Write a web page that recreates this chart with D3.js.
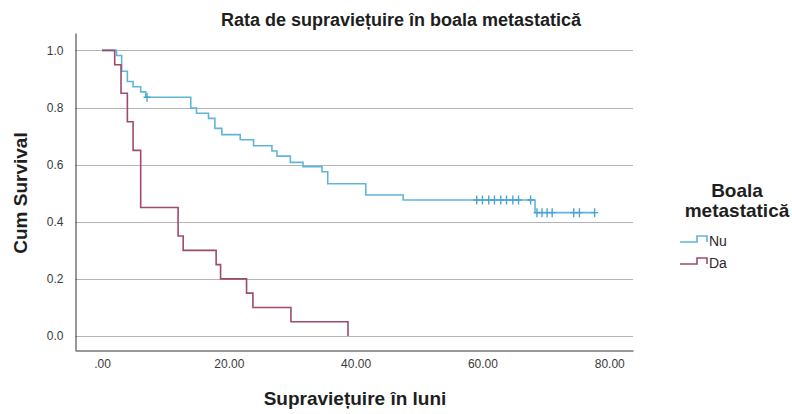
<!DOCTYPE html>
<html>
<head>
<meta charset="utf-8">
<script src="https://cdn.jsdelivr.net/npm/d3@7/dist/d3.min.js"></script>
<style>
  html, body { margin: 0; padding: 0; background: #fff; }
  svg { display: block; font-family: "Liberation Sans", Arial, sans-serif; }
</style>
</head>
<body>
<svg id="chart" width="792" height="414"></svg>
<script>
// Kaplan–Meier steps: time (months) and cumulative survival after each event
const groups = ["Nu", "Da"];
const groupColors = ["#62b5da", "#9e4a6e"];

const nuTime = [0, 2.3, 3.1, 4, 4.9, 6.1, 6.9, 14, 14.9, 16.8, 17.8, 18.9, 21.8, 23.9, 26.8, 27.6, 29.7, 31.7, 34.7, 35.6, 41.6, 47.5, 68.3];
const nuSurv = [1, 0.982, 0.927, 0.891, 0.873, 0.855, 0.836, 0.798, 0.780, 0.762, 0.727, 0.705, 0.687, 0.666, 0.648, 0.630, 0.608, 0.593, 0.575, 0.533, 0.494, 0.476, 0.432];
const nuCensored = [7.1, 59.1, 60.0, 61.0, 61.9, 62.9, 63.8, 64.8, 65.7, 67.6, 68.6, 69.4, 70.2, 71.0, 74.4, 75.3, 77.7];
const nuEnd = 77.7;

const daTime = [0, 2, 3, 4, 4.9, 6.1, 12, 12.8, 18, 18.7, 22.8, 23.8, 29.8, 38.8];
const daSurv = [1, 0.95, 0.85, 0.75, 0.65, 0.45, 0.35, 0.30, 0.25, 0.20, 0.15, 0.10, 0.05, 0];
const daCensored = [];
const daEnd = 38.8;

const xTicks = [0, 20, 40, 60, 80];
const xTickLabels = [".00", "20.00", "40.00", "60.00", "80.00"];
const yTicks = [0, 0.2, 0.4, 0.6, 0.8, 1.0];
const yTickLabels = ["0.0", "0.2", "0.4", "0.6", "0.8", "1.0"];

const svg = d3.select("#chart");
const plot = { left: 75, right: 633, top: 33, bottom: 350 };

const x = d3.scaleLinear().domain([-4.26, 83.75]).range([plot.left, plot.right]);
const y = d3.scaleLinear().domain([-0.049, 1.061]).range([plot.bottom, plot.top]);

// gridlines
svg.append("g")
  .selectAll("line")
  .data(yTicks)
  .join("line")
  .attr("x1", plot.left).attr("x2", plot.right)
  .attr("y1", d => Math.round(y(d)) + 0.5).attr("y2", d => Math.round(y(d)) + 0.5)
  .attr("stroke", "#b4b4b4").attr("stroke-width", 1);

// axes
const yAxis = d3.axisLeft(y).tickValues(yTicks).tickSize(0).tickPadding(12)
  .tickFormat((d, i) => yTickLabels[i]);
const xAxis = d3.axisBottom(x).tickValues(xTicks).tickSize(0).tickPadding(9)
  .tickFormat((d, i) => xTickLabels[i]);

const gy = svg.append("g").attr("transform", `translate(${plot.left + 0.5},0)`).call(yAxis);
const gx = svg.append("g").attr("transform", `translate(0,${plot.bottom + 0.5})`).call(xAxis);
[gx, gy].forEach(g => {
  g.select(".domain").attr("stroke", "#333").attr("stroke-width", 1);
  g.selectAll("text").attr("font-size", 12).attr("fill", "#3a3a3a")
    .attr("font-family", "'Liberation Sans', Arial, sans-serif");
});

// survival curves
const series = [
  { name: groups[0], time: nuTime, surv: nuSurv, end: nuEnd, cens: nuCensored, color: groupColors[0] },
  { name: groups[1], time: daTime, surv: daSurv, end: daEnd, cens: daCensored, color: groupColors[1] }
];

const stepLine = d3.line().x(d => x(d[0])).y(d => y(d[1])).curve(d3.curveStepAfter);

function survAt(s, t) {
  const i = d3.bisectRight(s.time, t) - 1;
  return s.surv[Math.max(0, i)];
}

series.forEach(s => {
  const pts = s.time.map((t, i) => [t, s.surv[i]]);
  const last = pts[pts.length - 1];
  if (s.end > last[0]) pts.push([s.end, last[1]]);
  svg.append("path")
    .attr("d", stepLine(pts))
    .attr("fill", "none")
    .attr("stroke", s.color)
    .attr("stroke-width", 1.6);

  svg.append("g")
    .selectAll("path")
    .data(s.cens)
    .join("path")
    .attr("d", t => {
      const cx = x(t), cy = y(survAt(s, t));
      return `M${cx},${cy - 4.5}V${cy + 4.5}M${cx - 3.5},${cy}H${cx + 3.5}`;
    })
    .attr("stroke", "#4aa3d3")
    .attr("stroke-width", 1.4)
    .attr("fill", "none");
});

// titles
svg.append("text")
  .attr("x", 401).attr("y", 26)
  .attr("text-anchor", "middle")
  .attr("font-size", 18).attr("font-weight", "bold").attr("fill", "#1e1e1e")
  .text("Rata de supraviețuire în boala metastatică");

svg.append("text")
  .attr("x", 355).attr("y", 405)
  .attr("text-anchor", "middle")
  .attr("font-size", 19).attr("font-weight", "bold").attr("fill", "#1e1e1e")
  .text("Supraviețuire în luni");

svg.append("text")
  .attr("transform", "translate(27,193) rotate(-90)")
  .attr("text-anchor", "middle")
  .attr("font-size", 19).attr("font-weight", "bold").attr("fill", "#1e1e1e")
  .text("Cum Survival");

// legend
const legend = svg.append("g");
legend.append("text")
  .attr("x", 737).attr("y", 197)
  .attr("text-anchor", "middle")
  .attr("font-size", 19).attr("font-weight", "bold").attr("fill", "#1e1e1e")
  .text("Boala");
legend.append("text")
  .attr("x", 737).attr("y", 217)
  .attr("text-anchor", "middle")
  .attr("font-size", 19).attr("font-weight", "bold").attr("fill", "#1e1e1e")
  .text("metastatică");

const legendRows = [242, 264];
series.forEach((s, i) => {
  const ly = legendRows[i];
  legend.append("path")
    .attr("d", `M680,${ly}H697V${ly - 6}H707V${ly}`)
    .attr("fill", "none").attr("stroke", s.color).attr("stroke-width", 1.6);
  legend.append("text")
    .attr("x", 709).attr("y", ly + 4)
    .attr("font-size", 14).attr("fill", "#2a2a2a")
    .text(s.name);
});
</script>
</body>
</html>
